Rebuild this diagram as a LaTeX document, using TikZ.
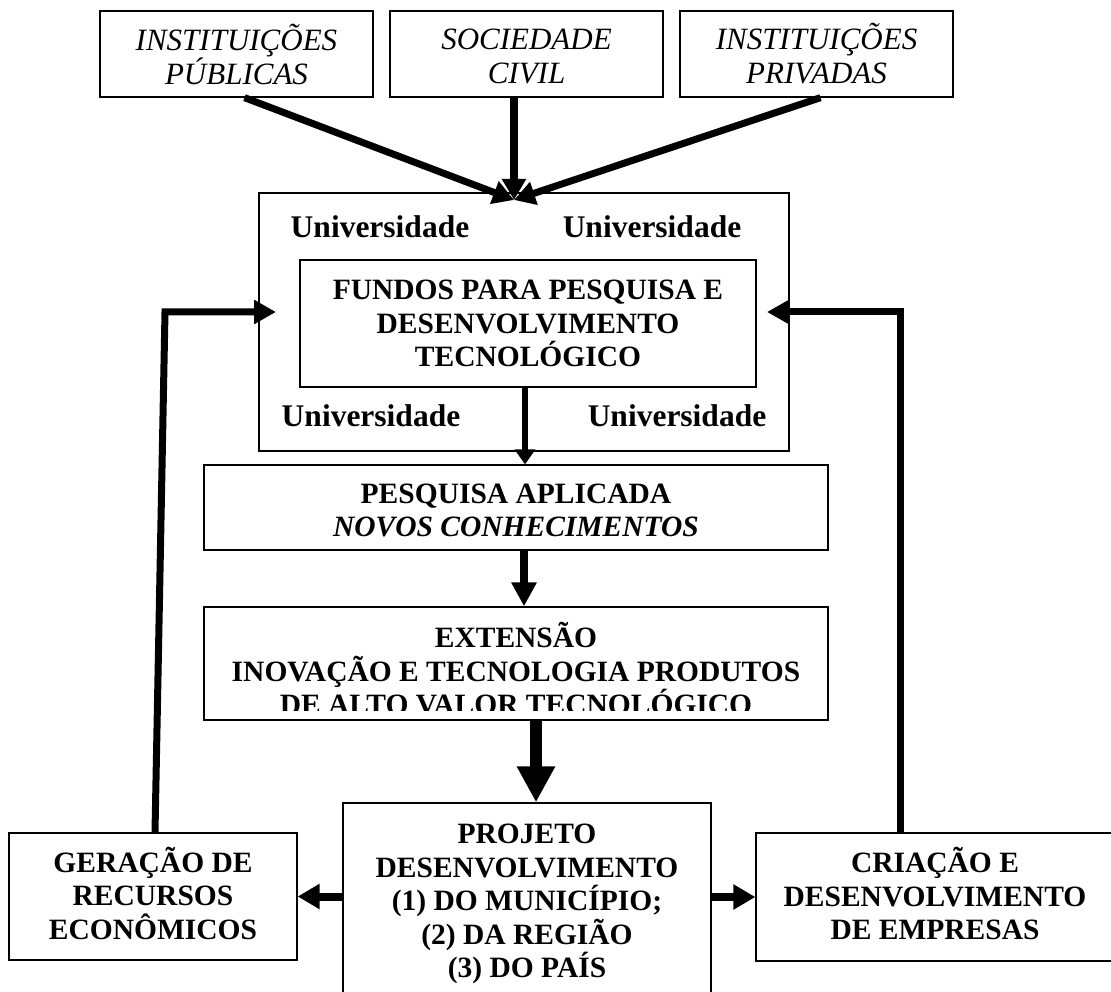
\documentclass[tikz,border=0pt]{standalone}
\usepackage{fontspec}
\setmainfont{Liberation Serif}
\usetikzlibrary{arrows.meta,positioning,calc}

\begin{document}
\begin{tikzpicture}[x=1pt,y=-1pt,
box/.style={draw=black, line width=1.3pt, align=center, inner sep=0pt, fill=white},
bftxt/.style={font=\fontsize{29.5}{33.5}\selectfont\bfseries},
ittxt/.style={font=\fontsize{31}{34}\selectfont\itshape},
unilabel/.style={font=\fontsize{31.5}{34}\selectfont\bfseries},
flow/.style n args={3}{line width=#1, -{Triangle[length=#2, width=#3]}}]
\useasboundingbox (0,0) rectangle (1111,992);
\clip (0,0) rectangle (1111,992);
% sources
\node[box, ittxt, minimum width=273pt, minimum height=86pt] (pub) at (236.5,54) {INSTITUIÇÕES\\PÚBLICAS};
\node[box, ittxt, minimum width=273pt, minimum height=86pt] (soc) at (526.5,54) {SOCIEDADE\vphantom{ÕÇ}\\CIVIL\vphantom{Ú}};
\node[box, ittxt, minimum width=273pt, minimum height=86pt] (priv) at (816.5,54) {INSTITUIÇÕES\\PRIVADAS\vphantom{Ú}};
% university block
\node[box, minimum width=530pt, minimum height=258pt] (univ) at (524,322) {};
\node[unilabel] (uTL) at (380,227) {Universidade};
\node[unilabel] (uTR) at (652,227) {Universidade};
\node[unilabel] (uBL) at (371,416) {Universidade};
\node[unilabel] (uBR) at (677,416) {Universidade};
\node[box, bftxt, minimum width=456pt, minimum height=127pt] (fundos) at (528,323.5) {FUNDOS PARA PESQUISA E\\DESENVOLVIMENTO\\TECNOLÓGICO};
% chain
\node[box, bftxt, minimum width=624pt, minimum height=85pt] (pesq) at (516,507.5) {\rule{0pt}{25pt}PESQUISA APLICADA\\\textit{NOVOS CONHECIMENTOS}};
\node[box, minimum width=624pt, minimum height=113pt] (ext) at (516,663.5) {};
\begin{scope}
\clip ([xshift=1pt,yshift=10pt]ext.south west) rectangle ([xshift=-1pt,yshift=-1pt]ext.north east);
\node[bftxt, align=center] (extxt) at (516,669) {EXTENSÃO\\INOVAÇÃO E TECNOLOGIA PRODUTOS\\DE ALTO VALOR TECNOLÓGICO};
\end{scope}
\node[box, bftxt, minimum width=368pt, minimum height=202pt] (proj) at (527,904) {PROJETO\\DESENVOLVIMENTO\\(1) DO MUNICÍPIO;\\(2) DA REGIÃO\\(3) DO PAÍS};
\node[box, bftxt, minimum width=288pt, minimum height=127pt] (ger) at (153,896.5) {GERAÇÃO DE\\RECURSOS\\ECONÔMICOS\rule[-7pt]{0pt}{7pt}};
\node[box, bftxt, minimum width=358pt, minimum height=128pt] (cria) at (935,897) {CRIAÇÃO E\\DESENVOLVIMENTO\\DE EMPRESAS\rule[-7pt]{0pt}{7pt}};
% connectors
\coordinate (hub) at (514,200);
\draw[flow={7pt}{21pt}{23pt}] ([xshift=8pt]pub.south) -- (hub);
\draw[flow={8pt}{21pt}{23pt}] (soc.south -| hub) -- (hub);
\draw[flow={7pt}{21pt}{23pt}] ([xshift=4pt]priv.south) -- (hub);
\draw[flow={6pt}{15pt}{20pt}] ([xshift=-3pt]fundos.south) -- ([xshift=-3pt]fundos.south |- pesq.north);
\draw[flow={8pt}{24pt}{24pt}] ([xshift=8pt]pesq.south) -- ([xshift=8pt]ext.north);
\draw[flow={12pt}{36pt}{36pt}] ([xshift=9pt]proj.north |- ext.south) -- ([xshift=9pt]proj.north);
\draw[flow={8pt}{22pt}{24pt}] (proj.west |- ger.east) -- (ger.east);
\draw[flow={8pt}{22pt}{24pt}] (proj.east |- cria.west) -- (cria.west);
% feedback
\coordinate (fbL) at (165,312);
\coordinate (fbLtip) at (276,312);
\coordinate (fbR) at (900,312);
\coordinate (fbRtip) at (767,312);
\draw[flow={7pt}{22pt}{23pt}] ([xshift=2pt]ger.north) -- (fbL) -- (fbLtip);
\draw[flow={7pt}{22pt}{23pt}] (cria.north -| fbR) -- (fbR) -- (fbRtip);
\end{tikzpicture}
\end{document}
